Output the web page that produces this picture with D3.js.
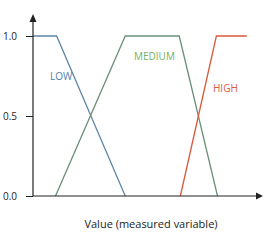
<!DOCTYPE html>
<html>
<head>
<meta charset="utf-8">
<script src="https://cdn.jsdelivr.net/npm/d3@7"></script>
<style>
  body { margin: 0; background: #fff; }
  text { font-family: "Open Sans", sans-serif; }
</style>
</head>
<body>
<div id="chart"></div>
<script>
// membership functions, x in 0..100, y in 0..1
const lowPts = [[0, 1], [10.5, 1], [41, 0]];
const mediumPts = [[10, 0], [41, 1], [65, 1], [82, 0]];
const highPts = [[65.5, 0], [81.5, 1], [95, 1]];
const yTicks = [0, 0.5, 1];
const xLabel = "Value (measured variable)";

const W = 269, H = 246;
const margin = {top: 36, right: 11, bottom: 50, left: 33};

const svg = d3.select("#chart").append("svg")
  .attr("width", W).attr("height", H);

const x = d3.scaleLinear().domain([0, 100]).range([margin.left, W - margin.right]);
const y = d3.scaleLinear().domain([0, 1]).range([H - margin.bottom, margin.top]);

const line = d3.line().x(d => x(d[0])).y(d => y(d[1]));

const series = [
  {name: "LOW", pts: lowPts, stroke: "#5f87a8", text: "#4f80b0", lx: 50, ly: 80},
  {name: "MEDIUM", pts: mediumPts, stroke: "#6a8f78", text: "#7aae5e", lx: 134, ly: 60},
  {name: "HIGH", pts: highPts, stroke: "#d85a3c", text: "#d85a3c", lx: 213, ly: 92}
];

svg.selectAll("path.mf")
  .data(series)
  .join("path")
    .attr("class", "mf")
    .attr("d", d => line(d.pts))
    .attr("fill", "none")
    .attr("stroke", d => d.stroke)
    .attr("stroke-width", 1.3);

svg.selectAll("text.lbl")
  .data(series)
  .join("text")
    .attr("class", "lbl")
    .attr("x", d => d.lx)
    .attr("y", d => d.ly)
    .attr("fill", d => d.text)
    .attr("font-size", 10)
    .text(d => d.name);

// y axis with arrow
const ax = svg.append("g").attr("transform", `translate(${margin.left},0)`)
  .call(d3.axisLeft(y).tickValues(yTicks).tickFormat(d3.format(".1f")).tickSize(7).tickPadding(9));
ax.select(".domain").remove();
ax.selectAll("text").attr("font-size", 10).attr("fill", "#222")
  .style("font-family", "'Open Sans', sans-serif");
ax.selectAll("line").attr("stroke", "#222");

svg.append("line")
  .attr("x1", margin.left).attr("x2", margin.left)
  .attr("y1", y(0)).attr("y2", 20)
  .attr("stroke", "#222").attr("stroke-width", 1.2);
svg.append("path")
  .attr("d", `M${margin.left - 3.5},${22} L${margin.left},${14} L${margin.left + 3.5},${22} Z`)
  .attr("fill", "#222");

// x axis with arrow
svg.append("line")
  .attr("x1", margin.left).attr("x2", 258)
  .attr("y1", y(0)).attr("y2", y(0))
  .attr("stroke", "#222").attr("stroke-width", 1.2);
svg.append("path")
  .attr("d", `M256,${y(0) - 3.5} L263,${y(0)} L256,${y(0) + 3.5} Z`)
  .attr("fill", "#222");

svg.append("text")
  .attr("x", 151).attr("y", 228)
  .attr("text-anchor", "middle")
  .attr("font-size", 11)
  .attr("fill", "#222")
  .text(xLabel);
</script>
</body>
</html>
